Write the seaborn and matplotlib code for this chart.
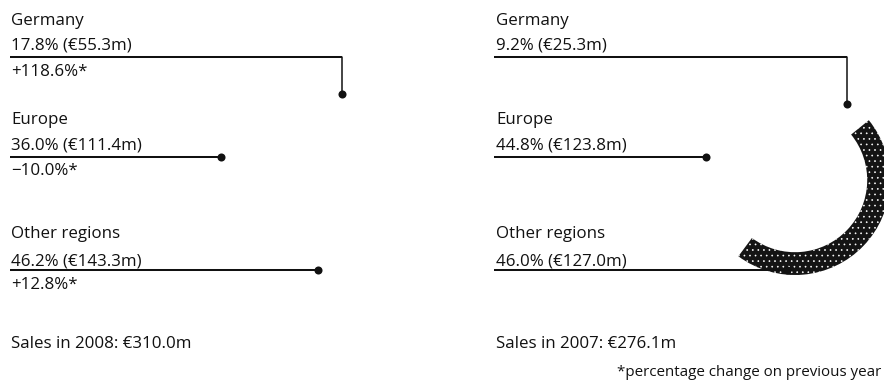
import numpy as np
import matplotlib
matplotlib.use("Agg")
import matplotlib.pyplot as plt
import seaborn as sns

# Sales by region, two fiscal years
regions = ["Germany", "Europe", "Other regions"]
share_2008 = [17.8, 36.0, 46.2]          # % of total sales
sales_2008 = [55.3, 111.4, 143.3]        # € million
change_2008 = [118.6, -10.0, 12.8]       # % change on previous year
share_2007 = [9.2, 44.8, 46.0]
sales_2007 = [25.3, 123.8, 127.0]
total_2008 = 310.0
total_2007 = 276.1

sns.set_theme(style="white", rc={"hatch.linewidth": 0.45})
plt.rcParams["font.family"] = ["Open Sans", "DejaVu Sans"]

W, H = 884, 385
INK = "#111111"
FS = 12.2

fig = plt.figure(figsize=(W / 100, H / 100), dpi=100)
fig.patch.set_facecolor("white")

# ring charts (drawn first so the leader lines sit on top)
R_PX = 95
panels = [
    dict(x_text=11, x_line=10, center=(310, 180), start=37.5,
         shares=share_2008, sales=sales_2008, change=change_2008,
         colors=["white", "white", "white"], other_side=1,
         total=f"Sales in 2008: €{total_2008:.1f}m"),
    dict(x_text=496, x_line=494, center=(795, 180), start=39,
         shares=share_2007, sales=sales_2007, change=None,
         colors=["white", "white", "#141414"], other_side=-1,
         total=f"Sales in 2007: €{total_2007:.1f}m"),
]

for p in panels:
    cx, cy = p["center"]
    pax = fig.add_axes([(cx - R_PX) / W, 1 - (cy + R_PX) / H,
                        2 * R_PX / W, 2 * R_PX / H], zorder=1)
    wedges, _ = pax.pie(p["shares"], radius=1, startangle=p["start"],
                        counterclock=True, colors=p["colors"],
                        wedgeprops=dict(width=0.24, linewidth=0,
                                        edgecolor="white"))
    for w, c in zip(wedges, p["colors"]):
        if c != "white":
            w.set_hatch("...")
    pax.set_xlim(-1, 1)
    pax.set_ylim(-1, 1)
    pax.set_axis_off()
    p["wedges"] = wedges

# text and leader lines, in pixel coordinates
ax = fig.add_axes([0, 0, 1, 1], zorder=2)
ax.set_xlim(0, W)
ax.set_ylim(H, 0)
ax.set_axis_off()
ax.patch.set_alpha(0)

rows = [  # baselines of name / share / change, and leader line height
    dict(name=25, share=49.5, change=76, line=57),
    dict(name=124, share=150, change=175, line=156.5),
    dict(name=238.5, share=265.5, change=289, line=270),
]
R_ANCHOR = 92


def fmt_change(v):
    s = f"{v:+.1f}%*"
    return s.replace("-", "\u2212")


for p in panels:
    cx, cy = p["center"]
    for i, reg in enumerate(regions):
        r = rows[i]
        ax.text(p["x_text"], r["name"], reg, fontsize=FS, color=INK,
                va="baseline", ha="left")
        ax.text(p["x_text"], r["share"],
                f"{p['shares'][i]:.1f}% (€{p['sales'][i]:.1f}m)",
                fontsize=FS, color=INK, va="baseline", ha="left")
        if p["change"] is not None:
            ax.text(p["x_text"], r["change"], fmt_change(p["change"][i]),
                    fontsize=FS, color=INK, va="baseline", ha="left")

        if i == 0:
            w = p["wedges"][i]
            mid = np.deg2rad((w.theta1 + w.theta2) / 2)
            axx = cx + R_ANCHOR * np.cos(mid)
            axy = cy - R_ANCHOR * np.sin(mid)
            ax.plot([p["x_line"], axx], [r["line"], r["line"]],
                    color=INK, lw=1.45, solid_capstyle="butt")
            ax.plot([axx, axx], [r["line"], axy], color=INK, lw=1.1)
        else:
            dy = cy - r["line"]
            ra = R_ANCHOR if i == 1 else 90.4
            side = -1 if i == 1 else p["other_side"]
            axx = cx + side * np.sqrt(max(ra ** 2 - dy ** 2, 0))
            axy = r["line"]
            ax.plot([p["x_line"], axx], [axy, axy], color=INK, lw=1.45,
                    solid_capstyle="butt")
        ax.plot([axx], [axy], "o", color=INK, ms=5.8, mec=INK, mew=0)

    ax.text(p["x_text"], 348.5, p["total"], fontsize=FS, color=INK,
            va="baseline", ha="left")

ax.text(881, 376.5, "*percentage change on previous year", fontsize=10.9,
        color=INK, va="baseline", ha="right")

fig.savefig("out.png", dpi=100, facecolor="white")
